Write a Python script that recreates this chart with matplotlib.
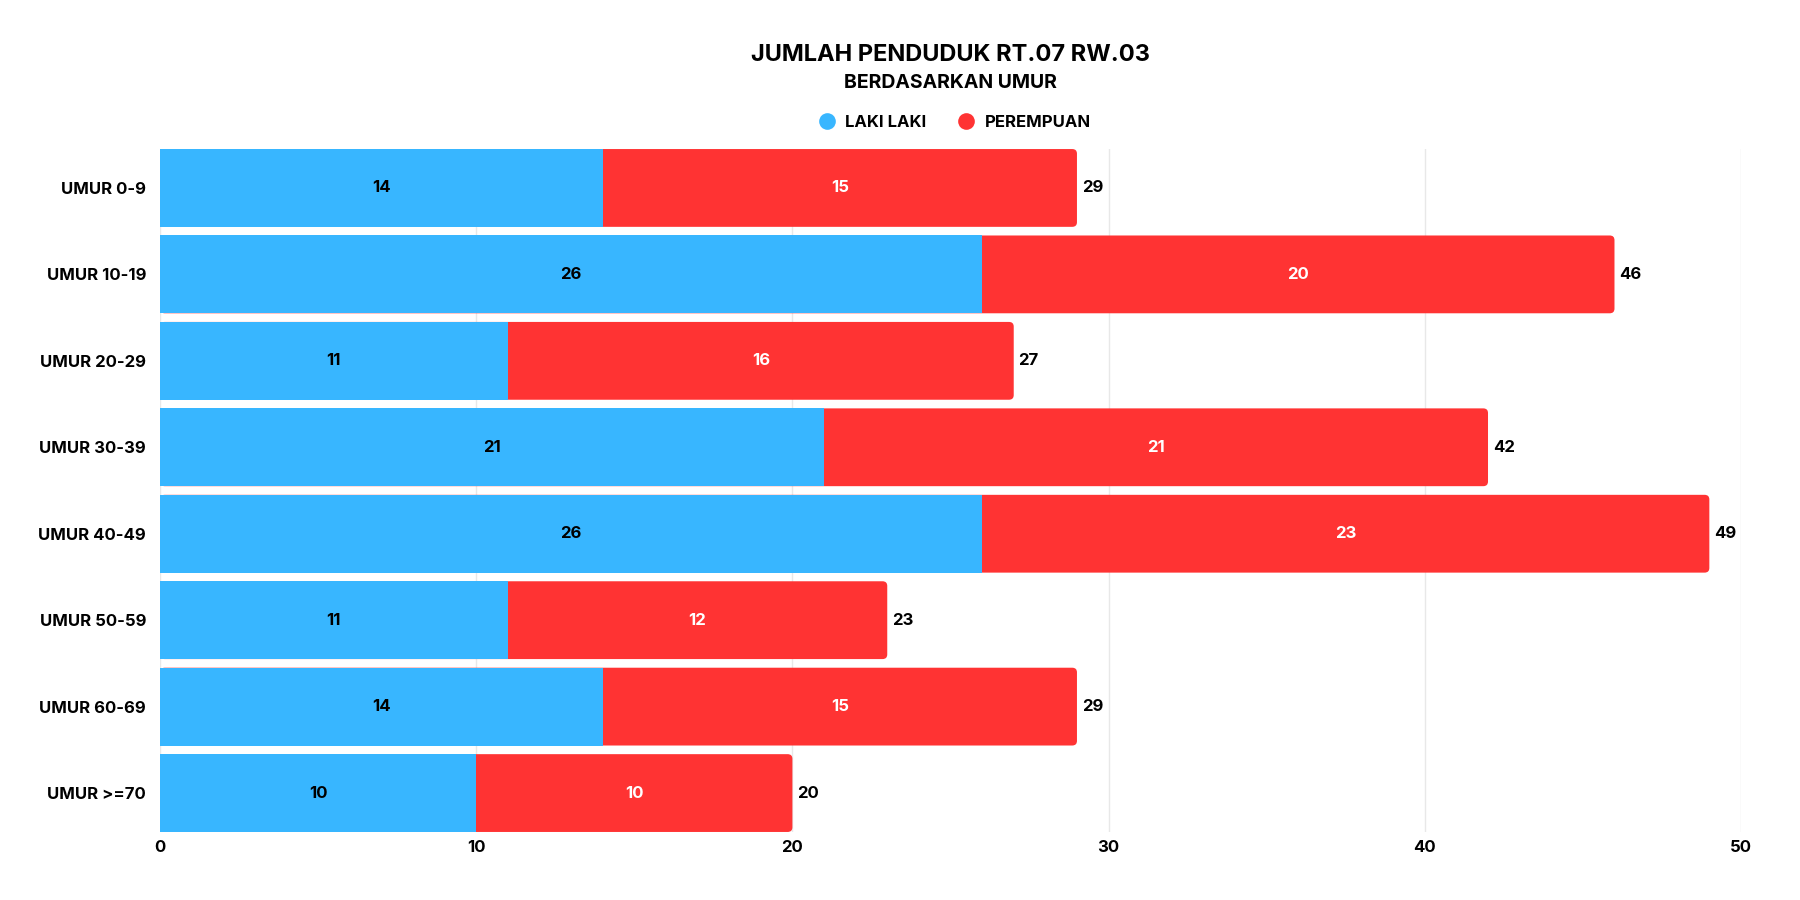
"""
Jumlah penduduk RT.07 RW.03 berdasarkan umur — stacked horizontal bars.
"""
import matplotlib
matplotlib.use("Agg")
import matplotlib.pyplot as plt
from matplotlib.lines import Line2D
from matplotlib.patches import FancyBboxPatch

AGE_GROUPS = ["UMUR 0-9", "UMUR 10-19", "UMUR 20-29", "UMUR 30-39",
              "UMUR 40-49", "UMUR 50-59", "UMUR 60-69", "UMUR >=70"]
LAKI = [14, 26, 11, 21, 26, 11, 14, 10]
PEREMPUAN = [15, 20, 16, 21, 23, 12, 15, 10]
X_TICKS = [0, 10, 20, 30, 40, 50]

BLUE = "#38B6FF"
RED = "#FF3333"
BAR_H = 0.9
FS = 12

plt.rcParams["font.family"] = ["Inter", "DejaVu Sans"]
plt.rcParams["font.weight"] = "bold"

fig = plt.figure(figsize=(18, 9), dpi=100)
left, right = 0.0889, 0.9672
ax = fig.add_axes([left, 0.0756, right - left, 0.8344 - 0.0756])
cx = (left + right) / 2

ys = list(range(len(AGE_GROUPS)))
totals = [m + f for m, f in zip(LAKI, PEREMPUAN)]

# red bar spans the full total with a rounded end, blue covers the left part
r = 0.15
aspect = 0.36
for y, t in zip(ys, totals):
    patch = FancyBboxPatch((0, y - BAR_H / 2), t, BAR_H,
                           boxstyle=f"round,pad=0,rounding_size={r}",
                           mutation_aspect=aspect,
                           facecolor=RED, edgecolor="none", zorder=2)
    ax.add_patch(patch)
ax.barh(ys, LAKI, height=BAR_H, color=BLUE, zorder=3)

for y, m, f, t in zip(ys, LAKI, PEREMPUAN, totals):
    ax.text(m / 2, y, str(m), ha="center", va="center", fontsize=FS,
            fontweight="bold", color="black", zorder=4)
    ax.text(m + f / 2, y, str(f), ha="center", va="center", fontsize=FS,
            fontweight="bold", color="white", zorder=4)
    ax.text(t + 0.15, y, str(t), ha="left", va="center", fontsize=FS,
            fontweight="bold", color="black", zorder=4)

ax.set_xlim(0, 50)
ax.set_ylim(len(AGE_GROUPS) - 1 + BAR_H / 2, -BAR_H / 2)
ax.set_yticks(ys)
ax.set_yticklabels(AGE_GROUPS, fontsize=FS, fontweight="bold")
ax.set_xticks(X_TICKS)
ax.set_xticklabels([str(v) for v in X_TICKS], fontsize=FS, fontweight="bold")
ax.tick_params(length=0, pad=10)
ax.tick_params(axis="x", pad=6)
ax.grid(axis="x", color="#e8e8e8", linewidth=1, zorder=0)
ax.set_axisbelow(True)
for s in ax.spines.values():
    s.set_visible(False)

fig.text(cx, 0.939, "JUMLAH PENDUDUK RT.07 RW.03", ha="center", va="center",
         fontsize=17, fontweight="bold")
fig.text(cx, 0.908, "BERDASARKAN UMUR", ha="center", va="center",
         fontsize=14, fontweight="bold")

handles = [
    Line2D([], [], marker="o", linestyle="none", markersize=12,
           markerfacecolor=BLUE, markeredgecolor="none", label="LAKI LAKI"),
    Line2D([], [], marker="o", linestyle="none", markersize=12,
           markerfacecolor=RED, markeredgecolor="none", label="PEREMPUAN"),
]
leg = fig.legend(handles=handles, loc="center", bbox_to_anchor=(cx, 0.864),
                 ncol=2, frameon=False, handletextpad=0.1, columnspacing=1.4,
                 prop={"size": FS, "weight": "bold"})

fig.savefig("out.png", dpi=100)
